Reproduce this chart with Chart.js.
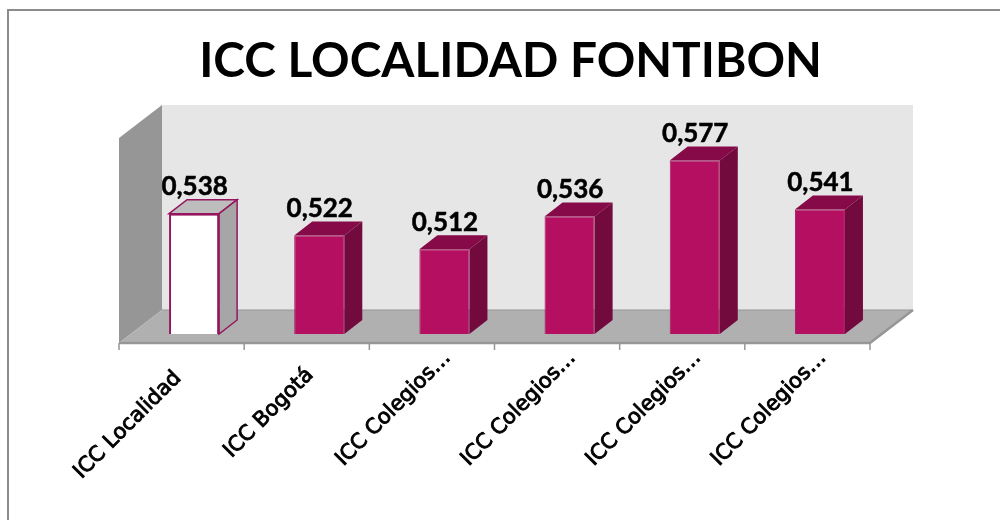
<!DOCTYPE html>
<html><head><meta charset="utf-8">
<style>html,body{margin:0;padding:0;background:#fff}#w{width:1000px;height:520px}</style>
<script src="https://cdn.jsdelivr.net/npm/chart.js@4"></script>
</head><body><div id="w"><canvas id="c" width="1000" height="520"></canvas></div>
<script>
const titleText = 'ICC LOCALIDAD FONTIBON';
const categories = ['ICC Localidad','ICC Bogotá','ICC Colegios…','ICC Colegios…','ICC Colegios…','ICC Colegios…'];
const values = [0.538,0.522,0.512,0.536,0.577,0.541];
const yMin = 0.45, yMax = 0.60;
const fonts = 'Lato, "Open Sans", sans-serif';
const front = ['#ffffff','#b40f60','#b40f60','#b40f60','#b40f60','#b40f60'];
const edge = ['#96155e','#a3175f','#a3175f','#a3175f','#a3175f','#a3175f'];
const edgeW = [2,1,1,1,1,1];
const topC = ['#bdbdbd','#870a48','#870a48','#870a48','#870a48','#870a48'];
const sideC = ['#a6a6a6','#720a3e','#720a3e','#720a3e','#720a3e','#720a3e'];
const barDX = 18, barDY = 14, wallDX = 43, wallDY = 33, planeDX = 12.5, planeDY = 9;
const nudgeX = [0,7,19,19,19,19], nudgeY = [0,-3,-20,-20,-20,-20];

function poly(ctx, pts, fill, stroke, lw){
  ctx.beginPath();
  pts.forEach((p,i)=> i ? ctx.lineTo(p[0],p[1]) : ctx.moveTo(p[0],p[1]));
  ctx.closePath();
  if(fill){ctx.fillStyle=fill;ctx.fill();}
  if(stroke){ctx.strokeStyle=stroke;ctx.lineWidth=lw||1;ctx.stroke();}
}
let nudged = false;
const scene = {
  id:'scene',
  afterLayout(chart){ chart.titleBlock.left += 7; },
  beforeDraw(chart){
    const c=chart.ctx; c.save();
    c.fillStyle='#fff'; c.fillRect(0,0,chart.width,chart.height);
    c.strokeStyle='#8c8c8c'; c.lineWidth=2;
    c.beginPath(); c.moveTo(8,chart.height); c.lineTo(8,10); c.lineTo(chart.width,10); c.stroke();
    c.restore();
    if(!nudged){
      chart.scales.x.getLabelItems().forEach((it,i)=>{
        it.options.translation[0]+=nudgeX[i]; it.options.translation[1]+=nudgeY[i];
      });
      nudged=true;
    }
  },
  beforeDatasetsDraw(chart){
    const c=chart.ctx, a=chart.chartArea;
    const L=a.left-planeDX, R=a.right-planeDX, B=a.bottom+planeDY, T=a.top+planeDY;
    c.save();
    poly(c,[[L+wallDX,T-wallDY],[R+wallDX,T-wallDY],[R+wallDX,B-wallDY],[L+wallDX,B-wallDY]],'#e6e6e6');
    poly(c,[[L,T],[L+wallDX,T-wallDY],[L+wallDX,B-wallDY],[L,B]],'#969696');
    poly(c,[[L,B],[L+wallDX,B-wallDY],[R+wallDX,B-wallDY],[R,B]],'#b0b0b0');
    c.strokeStyle='#969696'; c.lineWidth=1;
    c.beginPath(); c.moveTo(L+wallDX,B-wallDY); c.lineTo(R+wallDX,B-wallDY); c.stroke();
    c.lineWidth=2.5;
    c.beginPath(); c.moveTo(L,B); c.lineTo(R,B); c.lineTo(R+wallDX,B-wallDY); c.stroke();
    c.lineWidth=1.5;
    const step=(R-L)/categories.length;
    for(let i=0;i<=categories.length;i++){
      const x=L+i*step;
      c.beginPath(); c.moveTo(x,B); c.lineTo(x,B+7); c.stroke();
    }
    c.restore();
  },
  afterDatasetsDraw(chart){
    const c=chart.ctx, meta=chart.getDatasetMeta(0);
    c.save();
    meta.data.forEach((b,i)=>{
      const l=b.x-b.width/2, r=b.x+b.width/2, t=b.y, bt=b.base;
      const st=i===0?edge[i]:null, lw=i===0?1.5:0;
      poly(c,[[l,t],[l+barDX,t-barDY],[r+barDX,t-barDY],[r,t]],topC[i],st,lw);
      poly(c,[[r,t],[r+barDX,t-barDY],[r+barDX,bt-barDY],[r,bt]],sideC[i],st,lw);
      c.fillStyle='#000'; c.strokeStyle='#000'; c.lineWidth=0.5;
      c.font='bold 26px '+fonts;
      c.textAlign='center'; c.textBaseline='middle';
      const s=String(values[i]).replace('.',',');
      c.fillText(s,b.x+0.5,t-27); c.strokeText(s,b.x+0.5,t-27);
    });
    c.restore();
  }
};
new Chart(document.getElementById('c'),{
  type:'bar',
  data:{labels:categories,datasets:[{data:values,base:yMin,backgroundColor:front,borderColor:edge,borderWidth:edgeW,
    barPercentage:0.4,categoryPercentage:1}]},
  options:{
    responsive:false,animation:false,
    layout:{padding:{left:131.5,right:117.5,top:33,bottom:0}},
    plugins:{legend:{display:false},tooltip:{enabled:false},
      title:{display:true,text:titleText,color:'#000',font:{family:fonts,size:47.8,weight:'bold'},padding:{top:0,bottom:38.6}}},
    scales:{
      x:{grid:{display:false},border:{display:false},
        afterFit(s){s.height=186;},
        ticks:{color:'#000',font:{family:'"DejaVu Sans"',size:21,weight:'normal'},textStrokeColor:'#000',textStrokeWidth:0.9,minRotation:45,maxRotation:45,autoSkip:false,padding:24,labelOffset:-16}},
      y:{display:false,min:yMin,max:yMax}
    }
  },
  plugins:[scene]
});
</script></body></html>
